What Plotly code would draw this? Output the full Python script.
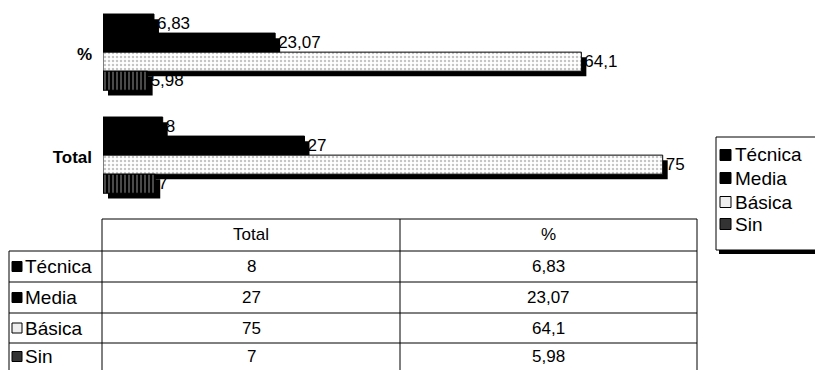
import plotly.graph_objects as go

# ---------------- data ----------------
categories = ["Total", "%"]
series = ["Técnica", "Media", "Básica", "Sin"]
total_vals = [8, 27, 75, 7]
pct_vals = [6.83, 23.07, 64.1, 5.98]


def fmt(v):
    return f"{v:g}".replace(".", ",")


W, H = 815, 370


def px(x):
    return x / W


def py(y):
    return 1 - y / H


FONT = "Liberation Sans, Arial, Helvetica, sans-serif"

# bar styling
bar_w = 0.185
offsets = [0.208, 0.023, -0.162, -0.347]
shadow_dx = 0.67
shadow_dy = 0.05
styles = [
    dict(color="black", line=dict(color="black", width=1)),
    dict(color="black", line=dict(color="black", width=1)),
    dict(color="white", line=dict(color="black", width=1),
         pattern=dict(shape=".", fgcolor="#8a8a8a", bgcolor="white", size=4, solidity=0.3)),
    dict(color="black", line=dict(color="black", width=1),
         pattern=dict(shape="|", fgcolor="#d0d0d0", bgcolor="black", size=4, solidity=0.35)),
]

fig = go.Figure()
for i, name in enumerate(series):
    vals = [total_vals[i], pct_vals[i]]
    fig.add_trace(go.Bar(
        x=vals, y=categories, orientation="h", base=shadow_dx,
        offset=offsets[i] - shadow_dy, width=bar_w,
        marker=dict(color="black", line=dict(width=0)),
        hoverinfo="skip", showlegend=False,
    ))
    fig.add_trace(go.Bar(
        x=vals, y=categories, orientation="h", name=name,
        offset=offsets[i], width=bar_w, marker=styles[i],
        text=[fmt(v) for v in vals], textposition="outside",
        textfont=dict(family=FONT, size=17, color="black"),
        constraintext="none", cliponaxis=False, showlegend=False,
    ))

shapes = []
annotations = []

# ---------------- data table ----------------
col_x = [9, 102, 400, 697]
row_y = [219, 251, 282, 313, 343, 372]
line = dict(color="black", width=1)
shapes.append(dict(type="line", xref="paper", yref="paper", x0=px(col_x[1]), x1=px(col_x[3]),
                   y0=py(row_y[0]), y1=py(row_y[0]), line=line))
for yy in row_y[1:]:
    shapes.append(dict(type="line", xref="paper", yref="paper", x0=px(col_x[0]), x1=px(col_x[3]),
                       y0=py(yy), y1=py(yy), line=line))
shapes.append(dict(type="line", xref="paper", yref="paper", x0=px(col_x[0]), x1=px(col_x[0]),
                   y0=py(row_y[1]), y1=py(row_y[-1]), line=line))
for xx in col_x[1:]:
    shapes.append(dict(type="line", xref="paper", yref="paper", x0=px(xx), x1=px(xx),
                       y0=py(row_y[0]), y1=py(row_y[-1]), line=line))

header_cols = ["Total", "%"]
col_vals = [total_vals, pct_vals]
for c, head in enumerate(header_cols):
    cx = (col_x[c + 1] + col_x[c + 2]) / 2
    annotations.append(dict(xref="paper", yref="paper", x=px(cx), y=py((row_y[0] + row_y[1]) / 2),
                            text=head, showarrow=False, xanchor="center", yanchor="middle",
                            font=dict(family=FONT, size=17, color="black")))
    for r, v in enumerate(col_vals[c]):
        cy = (row_y[r + 1] + min(row_y[r + 2], 370)) / 2
        annotations.append(dict(xref="paper", yref="paper", x=px(cx), y=py(cy),
                                text=fmt(v), showarrow=False, xanchor="center", yanchor="middle",
                                font=dict(family=FONT, size=17, color="black")))

swatch_fill = ["black", "black", "#eeeeee", "#333333"]
for r, name in enumerate(series):
    cy = (row_y[r + 1] + min(row_y[r + 2], 370)) / 2
    shapes.append(dict(type="rect", xref="paper", yref="paper", x0=px(12), x1=px(22),
                       y0=py(cy + 5), y1=py(cy - 5), fillcolor=swatch_fill[r],
                       line=dict(color="black", width=1)))
    annotations.append(dict(xref="paper", yref="paper", x=px(23), y=py(cy), text=name,
                            showarrow=False, xanchor="left", yanchor="middle",
                            font=dict(family=FONT, size=19, color="black")))

# ---------------- legend (manual) ----------------
shapes.append(dict(type="rect", xref="paper", yref="paper", x0=px(719), x1=px(830),
                   y0=py(254), y1=py(140), fillcolor="black", line=dict(width=0)))
shapes.append(dict(type="rect", xref="paper", yref="paper", x0=px(716), x1=px(826),
                   y0=py(250), y1=py(137), fillcolor="white", line=dict(color="black", width=1)))
leg_y = [155, 178, 202, 224]
for r, name in enumerate(series):
    cy = leg_y[r]
    shapes.append(dict(type="rect", xref="paper", yref="paper", x0=px(720), x1=px(731),
                       y0=py(cy + 5.5), y1=py(cy - 5.5), fillcolor=swatch_fill[r],
                       line=dict(color="black", width=1)))
    annotations.append(dict(xref="paper", yref="paper", x=px(733), y=py(cy), text=name,
                            showarrow=False, xanchor="left", yanchor="middle",
                            font=dict(family=FONT, size=19, color="black")))

fig.update_layout(
    width=W, height=H,
    margin=dict(l=0, r=0, t=0, b=0),
    paper_bgcolor="white", plot_bgcolor="white",
    barmode="overlay",
    showlegend=False,
    font=dict(family=FONT, color="black"),
    xaxis=dict(domain=[px(103), px(700)], range=[0, 80], visible=False),
    yaxis=dict(domain=[py(209), py(3)], type="category", categoryorder="array",
               categoryarray=categories, range=[-0.5, 1.5], ticks="", showline=False,
               showgrid=False, zeroline=False, ticklabelstandoff=10,
               tickfont=dict(family=FONT, size=17, color="black", weight="bold")),
    shapes=shapes,
    annotations=annotations,
)

fig.write_html("out.html", config={"displayModeBar": False},
               post_script="document.body.style.margin='0';document.body.style.overflow='hidden';")
